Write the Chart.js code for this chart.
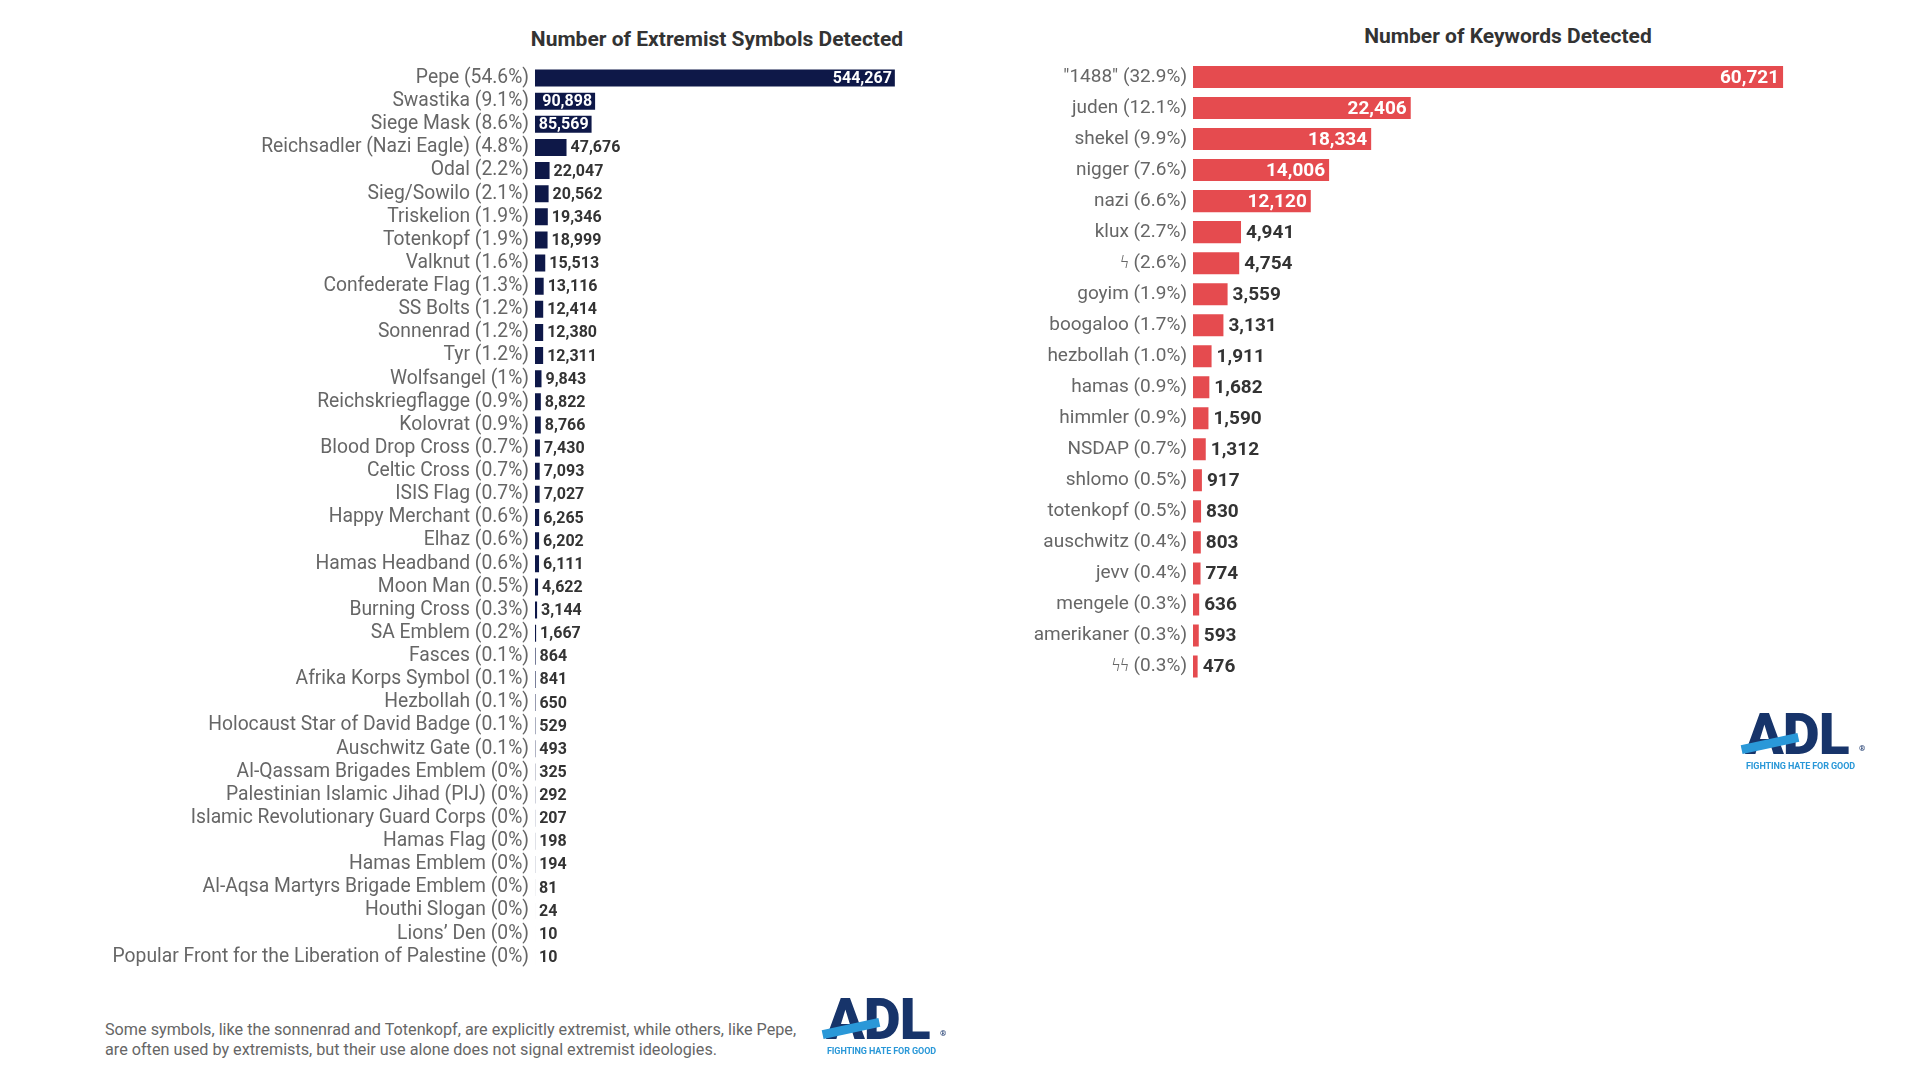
<!DOCTYPE html>
<html>
<head>
<meta charset="utf-8">
<script src="https://cdn.jsdelivr.net/npm/chart.js@4.4.1/dist/chart.umd.min.js"></script>
<style>
  html, body { margin: 0; padding: 0; background: #fff; }
  body { width: 1920px; height: 1080px; position: relative; overflow: hidden; font-family: Roboto, "Noto Sans", sans-serif; }
  .title { position: absolute; font-weight: 700; font-size: 21px; color: #333; transform: translateX(-50%); white-space: nowrap; }
  #wrapL { position: absolute; left: 0; top: 0; width: 1000px; height: 1000px; }
  #wrapR { position: absolute; left: 1000px; top: 0; width: 920px; height: 720px; }
  .note { position: absolute; left: 105px; top: 1020px; font-size: 16.2px; line-height: 19.5px; color: #666; }
  .logo { position: absolute; width: 120px; height: 62px; }
  .logo .adl { position: absolute; left: 0; top: -7px; font-weight: 900; font-size: 57px; letter-spacing: -1px; color: #17346a; line-height: 60px; }
  .logo .swoosh { position: absolute; left: -4px; top: 27px; width: 58px; height: 9px; background: #2a98d8; transform: rotate(-12deg); }
  .logo .reg { position: absolute; left: 114px; top: 32px; font-size: 8px; color: #17346a; font-weight: 700; }
  .logo .tag { position: absolute; left: 1px; top: 49px; font-size: 9px; font-weight: 700; color: #2a98d8; white-space: nowrap; letter-spacing: -0.1px; }
</style>
</head>
<body>
<div class="title" style="left:717px; top:27px;">Number of Extremist Symbols Detected</div>
<div class="title" style="left:1508px; top:24px;">Number of Keywords Detected</div>
<div id="wrapL"><canvas id="cL"></canvas></div>
<div id="wrapR"><canvas id="cR"></canvas></div>
<div class="note">Some symbols, like the sonnenrad and Totenkopf, are explicitly extremist, while others, like Pepe,<br>are often used by extremists, but their use alone does not signal extremist ideologies.</div>
<div class="logo" style="left:826px; top:997px;"><div class="adl">ADL</div><div class="swoosh"></div><div class="reg">®</div><div class="tag">FIGHTING HATE FOR GOOD</div></div>
<div class="logo" style="left:1745px; top:712px;"><div class="adl">ADL</div><div class="swoosh"></div><div class="reg">®</div><div class="tag">FIGHTING HATE FOR GOOD</div></div>
<script>
const symbolLabels = ["Pepe (54.6%)","Swastika (9.1%)","Siege Mask (8.6%)","Reichsadler (Nazi Eagle) (4.8%)","Odal (2.2%)","Sieg/Sowilo (2.1%)","Triskelion (1.9%)","Totenkopf (1.9%)","Valknut (1.6%)","Confederate Flag (1.3%)","SS Bolts (1.2%)","Sonnenrad (1.2%)","Tyr (1.2%)","Wolfsangel (1%)","Reichskriegflagge (0.9%)","Kolovrat (0.9%)","Blood Drop Cross (0.7%)","Celtic Cross (0.7%)","ISIS Flag (0.7%)","Happy Merchant (0.6%)","Elhaz (0.6%)","Hamas Headband (0.6%)","Moon Man (0.5%)","Burning Cross (0.3%)","SA Emblem (0.2%)","Fasces (0.1%)","Afrika Korps Symbol (0.1%)","Hezbollah (0.1%)","Holocaust Star of David Badge (0.1%)","Auschwitz Gate (0.1%)","Al-Qassam Brigades Emblem (0%)","Palestinian Islamic Jihad (PIJ) (0%)","Islamic Revolutionary Guard Corps (0%)","Hamas Flag (0%)","Hamas Emblem (0%)","Al-Aqsa Martyrs Brigade Emblem (0%)","Houthi Slogan (0%)","Lions\u2019 Den (0%)","Popular Front for the Liberation of Palestine (0%)"];
const symbolValues = [544267,90898,85569,47676,22047,20562,19346,18999,15513,13116,12414,12380,12311,9843,8822,8766,7430,7093,7027,6265,6202,6111,4622,3144,1667,864,841,650,529,493,325,292,207,198,194,81,24,10,10];
const keywordLabels = ["\"1488\" (32.9%)","juden (12.1%)","shekel (9.9%)","nigger (7.6%)","nazi (6.6%)","klux (2.7%)","\u03DF (2.6%)","goyim (1.9%)","boogaloo (1.7%)","hezbollah (1.0%)","hamas (0.9%)","himmler (0.9%)","NSDAP (0.7%)","shlomo (0.5%)","totenkopf (0.5%)","auschwitz (0.4%)","jevv (0.4%)","mengele (0.3%)","amerikaner (0.3%)","\u03DF\u03DF (0.3%)"];
const keywordValues = [60721,22406,18334,14006,12120,4941,4754,3559,3131,1911,1682,1590,1312,917,830,803,774,636,593,476];

const valueLabelPlugin = {
  id: 'valueLabels',
  afterDatasetsDraw(chart, args, opts) {
    const ctx = chart.ctx;
    const meta = chart.getDatasetMeta(0);
    const data = chart.data.datasets[0].data;
    ctx.save();
    ctx.font = '700 ' + opts.size + 'px Roboto';
    ctx.textBaseline = 'middle';
    meta.data.forEach((bar, i) => {
      const txt = data[i].toLocaleString('en-US');
      const w = ctx.measureText(txt).width;
      const len = bar.x - bar.base;
      if (len >= w + 2 * opts.pad) {
        ctx.fillStyle = '#ffffff';
        ctx.textAlign = 'right';
        ctx.fillText(txt, bar.x - opts.pad, bar.y + 1);
      } else {
        ctx.fillStyle = '#333333';
        ctx.textAlign = 'left';
        ctx.fillText(txt, bar.x + opts.gap, bar.y + 1);
      }
    });
    ctx.restore();
  }
};

function makeChart(id, labels, values, color, yWidth, max, padding, barPct, valSize, valPad, valGap, tickSize) {
  return new Chart(document.getElementById(id), {
    type: 'bar',
    data: { labels: labels, datasets: [{ data: values, backgroundColor: color, borderWidth: 0, barPercentage: barPct, categoryPercentage: 1 }] },
    plugins: [valueLabelPlugin],
    options: {
      indexAxis: 'y',
      responsive: true,
      maintainAspectRatio: false,
      animation: false,
      layout: { padding: padding },
      plugins: { legend: { display: false }, tooltip: { enabled: false }, title: { display: false },
                 valueLabels: { size: valSize, pad: valPad, gap: valGap } },
      scales: {
        x: { display: false, min: 0, max: max },
        y: {
          grid: { display: false, drawTicks: false },
          border: { display: false },
          ticks: { autoSkip: false, padding: 6, color: '#666666', font: { family: 'Roboto', size: tickSize } },
          afterFit(scale) { scale.width = yWidth; }
        }
      }
    }
  });
}

makeChart('cL', symbolLabels, symbolValues, '#0e1848', 535, 605000, { top: 66.5, bottom: 31.5, left: 0, right: 65 }, 0.735, 16, 3, 4, 19.3);
makeChart('cR', keywordLabels, keywordValues, '#e54b4f', 193, 63800, { top: 61.5, bottom: 38, left: 0, right: 107 }, 0.71, 19, 4, 5, 19);
</script>
</body>
</html>
